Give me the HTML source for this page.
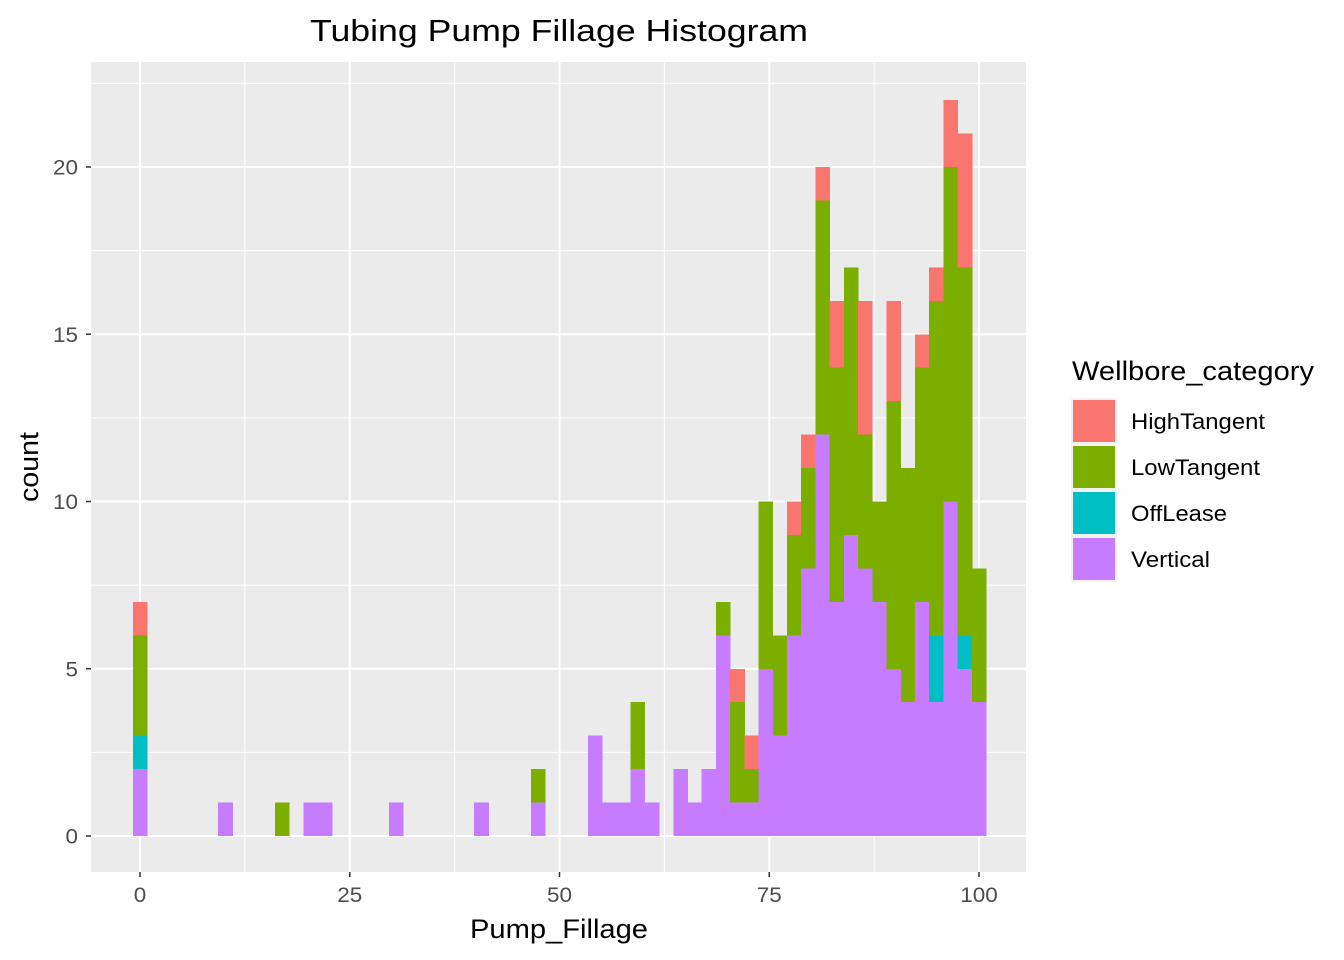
<!DOCTYPE html>
<html><head><meta charset="utf-8"><style>
html,body{margin:0;padding:0;background:#fff;}
svg{display:block;font-family:"Liberation Sans",sans-serif;}
</style></head><body>
<svg id="chart" width="1344" height="960" viewBox="0 0 1344 960">
<rect x="0" y="0" width="1344" height="960" fill="#fff"/>
<rect x="91" y="62" width="935" height="810" fill="#EBEBEB"/>
<g id="grid"></g>
<g id="bars" shape-rendering="crispEdges"></g>
<g id="axes"></g>
<text x="310" y="41" font-size="31" textLength="498" lengthAdjust="spacingAndGlyphs" fill="#000">Tubing Pump Fillage Histogram</text>
<text x="470" y="938" font-size="27" textLength="178" lengthAdjust="spacingAndGlyphs" fill="#000">Pump_Fillage</text>
<text x="0" y="0" font-size="27" text-anchor="middle" textLength="70" lengthAdjust="spacingAndGlyphs" fill="#000" transform="translate(38,467) rotate(-90)">count</text>
<g id="legend">
<text x="1072" y="380" font-size="27" textLength="242" lengthAdjust="spacingAndGlyphs" fill="#000">Wellbore_category</text>
<rect x="1071" y="398" width="46" height="184" fill="#F2F2F2"/>
</g>
</svg>
<script>
const categories = ["HighTangent","LowTangent","OffLease","Vertical"];
const colors = ["#F8766D","#7CAE00","#00BFC4","#C77CFF"];
const binIndex = [0,6,10,12,13,18,24,28,32,33,34,35,36,38,39,40,41,42,43,44,45,46,47,48,49,50,51,52,53,54,55,56,57,58,59];
const vertical = [2,1,0,1,1,1,1,1,3,1,1,2,1,2,1,2,6,1,1,5,3,6,8,12,7,9,8,7,5,4,7,4,10,5,4];
const offLease = [1,0,0,0,0,0,0,0,0,0,0,0,0,0,0,0,0,0,0,0,0,0,0,0,0,0,0,0,0,0,0,2,0,1,0];
const lowTangent = [3,0,1,0,0,0,0,1,0,0,0,2,0,0,0,0,1,3,1,5,3,3,3,7,7,8,4,3,8,7,7,10,10,11,4];
const highTangent = [1,0,0,0,0,0,0,0,0,0,0,0,0,0,0,0,0,1,1,0,0,1,1,1,2,0,4,0,3,0,1,1,2,4,0];
const xTicks = [0,25,50,75,100];
const yTicks = [0,5,10,15,20];
const legendWidths = [134,129,96,79];
const binWidth = 100/59;
const NS = "http://www.w3.org/2000/svg";
const X = v => 140 + v*8.39;
const Y = c => 836 - c*33.45;
const grid = document.getElementById('grid');
function line(g,x1,y1,x2,y2,w,col){const l=document.createElementNS(NS,'line');l.setAttribute('x1',x1);l.setAttribute('y1',y1);l.setAttribute('x2',x2);l.setAttribute('y2',y2);l.setAttribute('stroke',col);l.setAttribute('stroke-width',w);g.appendChild(l);return l;}
for(let i=0;i<xTicks.length;i++){
  const l=line(grid,X(xTicks[i]),62,X(xTicks[i]),872,2.1,'#fff');
  
  
  if(i<xTicks.length-1){const m=line(grid,X((xTicks[i]+xTicks[i+1])/2),62,X((xTicks[i]+xTicks[i+1])/2),872,1,'#fff');
    
    }
}
for(let i=0;i<yTicks.length;i++){
  const l=line(grid,91,Y(yTicks[i]),1026,Y(yTicks[i]),2.1,'#fff');
  
  
  const m=line(grid,91,Y(yTicks[i]+2.5),1026,Y(yTicks[i]+2.5),1,'#fff');
  
  
}
{const m=line(grid,X(-12.5),62,X(-12.5),872,1,'#fff');}
const bars=document.getElementById('bars');
const series=[vertical,offLease,lowTangent,highTangent];
const sCol=[colors[3],colors[2],colors[1],colors[0]];
const sName=['vertical','offlease','lowtangent','hightangent'];
for(let i=0;i<binIndex.length;i++){
  const c=binIndex[i]*binWidth;
  const x0=X(c-binWidth/2), x1=X(c+binWidth/2);
  let base=0;
  for(let s=0;s<4;s++){
    const v=series[s][i]; if(!v) continue;
    const r=document.createElementNS(NS,'rect');
    r.setAttribute('x',x0);r.setAttribute('width',x1-x0+0.4);
    r.setAttribute('y',Y(base+v));r.setAttribute('height',Y(base)-Y(base+v));
    r.setAttribute('fill',sCol[s]);
    
    
    bars.appendChild(r);
    base+=v;
  }
}
const axes=document.getElementById('axes');
function txt(g,x,y,s,anchor,size){const t=document.createElementNS(NS,'text');t.setAttribute('x',x);t.setAttribute('y',y);t.setAttribute('text-anchor',anchor);t.setAttribute('font-size',size);t.setAttribute('fill','#4D4D4D');t.setAttribute('textLength',String(s).length*12.5);t.setAttribute('lengthAdjust','spacingAndGlyphs');t.textContent=s;g.appendChild(t);return t;}
xTicks.forEach(v=>{
  const k=line(axes,X(v),872,X(v),877,1.5,'#333');
  
  
  const t=txt(axes,X(v),902,String(v),'middle',21);
  
  
});
yTicks.forEach(v=>{
  const k=line(axes,86,Y(v),91,Y(v),1.5,'#333');
  
  
  const t=txt(axes,78,Y(v)+7.5,String(v),'end',21);
  
  
});
const legend=document.getElementById('legend');
categories.forEach((c,i)=>{
  const y=400+i*46;
  const r=document.createElementNS(NS,'rect');
  r.setAttribute('x',1073);r.setAttribute('y',y);r.setAttribute('width',42);r.setAttribute('height',42);r.setAttribute('fill',colors[i]);
  
  
  legend.appendChild(r);
  const t=document.createElementNS(NS,'text');
  t.setAttribute('x',1131);t.setAttribute('y',y+29);t.setAttribute('font-size',22);t.setAttribute('fill','#000');
  t.setAttribute('textLength',legendWidths[i]);t.setAttribute('lengthAdjust','spacingAndGlyphs');
  t.textContent=c;
  
  
  legend.appendChild(t);
});
</script>
</body></html>
